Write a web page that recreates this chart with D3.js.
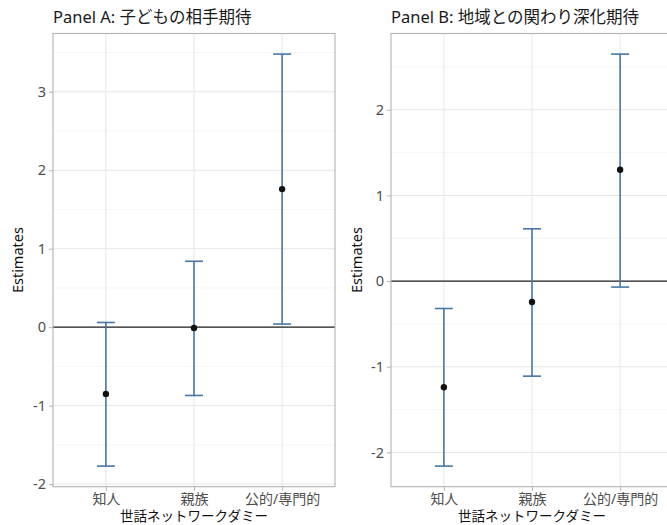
<!DOCTYPE html>
<html><head><meta charset="utf-8">
<script src="https://cdn.jsdelivr.net/npm/d3@7"></script>
<style>body{margin:0;background:#fff}svg{display:block}</style>
</head><body>
<svg id="c" width="667" height="525"></svg>
<script>
const categories = ["知人", "親族", "公的/専門的"];
const panelTitles = ["Panel A: 子どもの相手期待", "Panel B: 地域との関わり深化期待"];
const estA = [-0.85, -0.01, 1.76];
const lowA = [-1.77, -0.87, 0.04];
const highA = [0.06, 0.84, 3.48];
const estB = [-1.24, -0.245, 1.30];
const lowB = [-2.16, -1.11, -0.07];
const highB = [-0.32, 0.61, 2.65];
const ticksA = [-2, -1, 0, 1, 2, 3];
const ticksB = [-2, -1, 0, 1, 2];
const xTitle = "世話ネットワークダミー";
const yTitle = "Estimates";

const svg = d3.select("#c");
const font = "'Noto Sans', 'Noto Sans CJK JP', sans-serif";
const panels = [
  {title: panelTitles[0], est: estA, low: lowA, high: highA, ticks: ticksA, x0: 53, x1: 335, yl: 18},
  {title: panelTitles[1], est: estB, low: lowB, high: highB, ticks: ticksB, x0: 391, x1: 673, yl: 357}
];
const plotTop = 33.5, plotBottom = 486.7;

panels.forEach(p => {
  const g = svg.append("g");
  const lo = d3.min(p.low), hi = d3.max(p.high), pad = (hi - lo) * 0.05;
  const y = d3.scaleLinear().domain([lo - pad, hi + pad]).range([plotBottom, plotTop]);
  const x = d3.scalePoint().domain(categories).range([p.x0, p.x1]).padding(0.6);

  const minor = d3.range(Math.ceil((lo - pad) * 2) / 2, hi + pad, 0.5).filter(v => Math.abs(v % 1) > 0.01);
  g.selectAll(".mn").data(minor).join("line")
    .attr("x1", p.x0).attr("x2", p.x1).attr("y1", d => y(d)).attr("y2", d => y(d))
    .attr("stroke", "#f0f0f0").attr("stroke-width", 0.6);
  g.selectAll(".mj").data(p.ticks).join("line")
    .attr("x1", p.x0).attr("x2", p.x1).attr("y1", d => y(d)).attr("y2", d => y(d))
    .attr("stroke", "#e6e6e6").attr("stroke-width", 1);
  g.selectAll(".vx").data(categories).join("line")
    .attr("x1", d => x(d)).attr("x2", d => x(d)).attr("y1", plotTop).attr("y2", plotBottom)
    .attr("stroke", "#e6e6e6").attr("stroke-width", 1);

  g.append("line").attr("x1", p.x0).attr("x2", p.x1).attr("y1", y(0)).attr("y2", y(0))
    .attr("stroke", "#222").attr("stroke-width", 1.2);

  const col = "#4677a8";
  categories.forEach((c, i) => {
    const cx = x(c);
    g.append("line").attr("x1", cx).attr("x2", cx).attr("y1", y(p.low[i])).attr("y2", y(p.high[i]))
      .attr("stroke", col).attr("stroke-width", 1.6);
    [p.low[i], p.high[i]].forEach(v => {
      g.append("line").attr("x1", cx - 9).attr("x2", cx + 9).attr("y1", y(v)).attr("y2", y(v))
        .attr("stroke", col).attr("stroke-width", 1.6);
    });
    g.append("circle").attr("cx", cx).attr("cy", y(p.est[i])).attr("r", 3.2).attr("fill", "#111");
  });

  g.append("rect").attr("x", p.x0).attr("y", plotTop).attr("width", p.x1 - p.x0).attr("height", plotBottom - plotTop)
    .attr("fill", "none").attr("stroke", "#b3b3b3").attr("stroke-width", 1.1);

  const ya = g.append("g").attr("transform", `translate(${p.x0},0)`)
    .call(d3.axisLeft(y).tickValues(p.ticks).tickSize(4).tickPadding(3).tickFormat(d => String(d)));
  ya.select(".domain").remove();
  ya.selectAll("line").attr("stroke", "#b3b3b3");
  ya.selectAll("text").attr("fill", "#4d4d4d").style("font-family", font).style("font-size", "14.5px");

  const xa = g.append("g").attr("transform", `translate(0,${plotBottom})`)
    .call(d3.axisBottom(x).tickSize(4).tickPadding(3));
  xa.select(".domain").remove();
  xa.selectAll("line").attr("stroke", "#b3b3b3");
  xa.selectAll("text").attr("fill", "#4d4d4d").attr("dy", null).attr("y", 17)
    .style("font-family", font).style("font-size", "14px");

  g.append("text").attr("x", p.x0).attr("y", 23).text(p.title)
    .style("font-family", font).style("font-size", "16.5px").attr("fill", "#1a1a1a");
  g.append("text").attr("x", (p.x0 + p.x1) / 2).attr("y", 520.5).attr("text-anchor", "middle").text(xTitle)
    .style("font-family", font).style("font-size", "13.5px").attr("fill", "#111");
  g.append("text").attr("transform", `translate(${p.yl + 5},${(plotTop + plotBottom) / 2}) rotate(-90)`)
    .attr("text-anchor", "middle").text(yTitle)
    .style("font-family", font).style("font-size", "14.5px").attr("fill", "#111");
});
</script>
</body></html>
